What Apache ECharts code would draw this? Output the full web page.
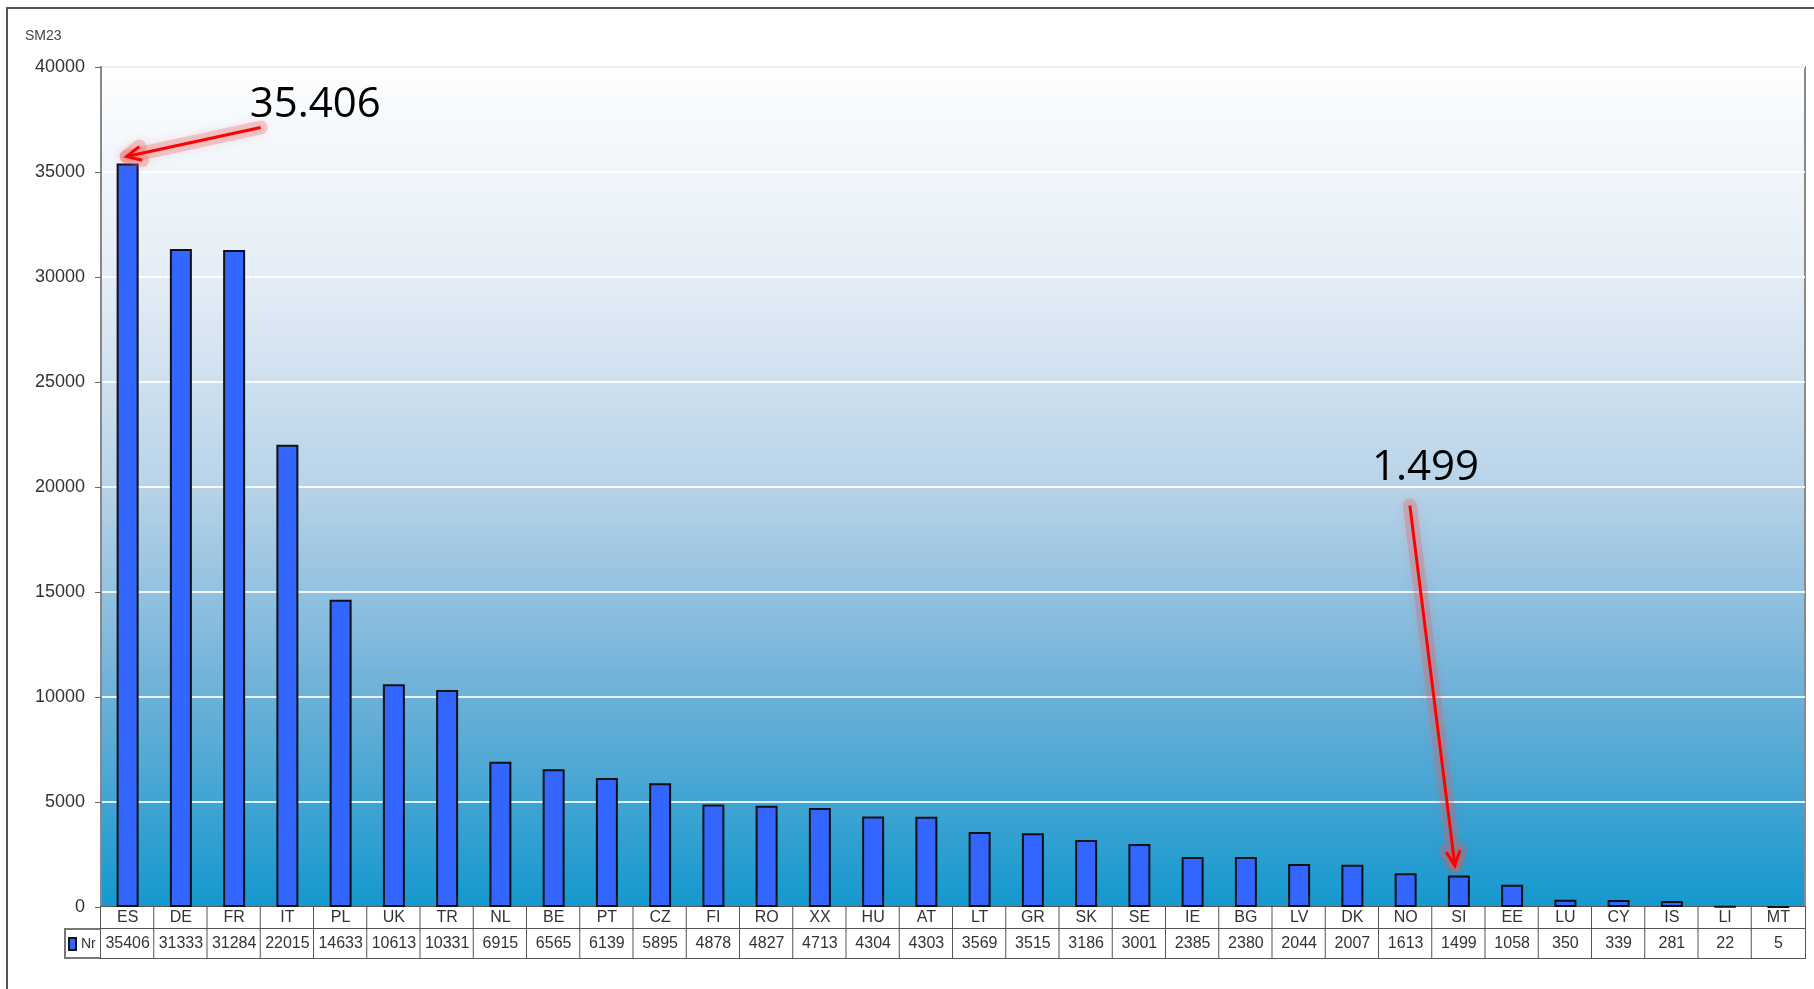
<!DOCTYPE html>
<html>
<head>
<meta charset="utf-8">
<script src="https://cdn.jsdelivr.net/npm/echarts@6/dist/echarts.min.js"></script>
<style>
    html, body { margin: 0; padding: 0; background: #fff; }
    #chart { width: 1814px; height: 989px; }
</style>
</head>
<body>
<div id="chart"></div>
<script>
    // data
    var countries = ['ES', 'DE', 'FR', 'IT', 'PL', 'UK', 'TR', 'NL', 'BE', 'PT', 'CZ', 'FI', 'RO', 'XX', 'HU', 'AT',
        'LT', 'GR', 'SK', 'SE', 'IE', 'BG', 'LV', 'DK', 'NO', 'SI', 'EE', 'LU', 'CY', 'IS', 'LI', 'MT'];
    var counts = [35406, 31333, 31284, 22015, 14633, 10613, 10331, 6915, 6565, 6139, 5895, 4878, 4827, 4713, 4304, 4303,
        3569, 3515, 3186, 3001, 2385, 2380, 2044, 2007, 1613, 1499, 1058, 350, 339, 281, 22, 5];
    var yMin = 0, yMax = 40000, yStep = 5000;
    var callouts = [
        {name: 'ES', text: '35.406'},
        {name: 'SI', text: '1.499'}
    ];

    var plain = '"Liberation Sans", Arial, sans-serif';
    var colW = 1704 / countries.length;

    var chart = echarts.init(document.getElementById('chart'));

    var option = {
        animation: false,
        title: {
            text: 'SM23', left: 20, top: 24,
            textStyle: {fontFamily: plain, fontSize: 14, fontWeight: 'normal', color: '#444'}
        },
        legend: {
            data: ['Nr'], left: 68, top: 937, padding: 0,
            icon: 'rect', itemWidth: 7, itemHeight: 12, itemGap: 2,
            textStyle: {fontFamily: plain, fontSize: 14, color: '#333'}
        },
        grid: {
            left: 101, right: 9, top: 67, bottom: 82,
            show: true,
            borderColor: '#8a8a8a', borderWidth: 2,
            backgroundColor: new echarts.graphic.LinearGradient(0, 0, 0, 1, [
                {offset: 0, color: '#fdfeff'},
                {offset: 0.25, color: '#e4edf6'},
                {offset: 0.5, color: '#b8d3e8'},
                {offset: 0.75, color: '#6cb0d8'},
                {offset: 1, color: '#1498ce'}
            ])
        },
        xAxis: {
            type: 'category',
            data: countries,
            axisLine: {lineStyle: {color: '#777', width: 1}},
            axisTick: {show: false},
            axisLabel: {
                interval: 0, margin: 0,
                formatter: function (value, index) {
                    return '{c|' + value + '}\n{v|' + counts[index] + '}';
                },
                rich: {
                    c: {
                        width: colW, height: 22, lineHeight: 22, align: 'center',
                        backgroundColor: '#fff', borderColor: '#555', borderWidth: 1,
                        fontFamily: plain, fontSize: 16, color: '#333'
                    },
                    v: {
                        width: colW, height: 29, lineHeight: 29, align: 'center',
                        backgroundColor: '#fff', borderColor: '#555', borderWidth: 1,
                        fontFamily: plain, fontSize: 16, color: '#333'
                    }
                }
            }
        },
        yAxis: {
            type: 'value',
            min: yMin, max: yMax, interval: yStep,
            axisLine: {show: true, lineStyle: {color: '#888', width: 2}},
            axisTick: {show: true, length: 6, lineStyle: {color: '#666'}},
            axisLabel: {
                margin: 16, fontFamily: plain, fontSize: 18, color: '#333',
                formatter: function (v) { return String(v); }
            },
            splitLine: {lineStyle: {color: 'rgba(255,255,255,0.85)', width: 2}}
        },
        series: [{
            name: 'Nr',
            type: 'bar',
            data: counts,
            barWidth: 22,
            itemStyle: {color: '#3366ff', borderColor: '#111', borderWidth: 2}
        }]
    };
    chart.setOption(option);

    // red call-out arrows, anchored on the bar tops
    var offsets = {
        ES: {head: [-1, -7], tail: [133, -36], text: [122, -58]},
        SI: {head: [-4, -10], tail: [-49, -370], text: [-87, -407]}
    };
    var graphics = [
        {type: 'rect', shape: {x: 7, y: 8, width: 1830, height: 1000}, style: {fill: null, stroke: '#555', lineWidth: 2}, silent: true},
        {type: 'rect', shape: {x: 65, y: 929, width: 36, height: 29}, style: {fill: null, stroke: '#555', lineWidth: 1}, silent: true},
        {type: 'rect', shape: {x: 65, y: 929, width: 1740, height: 29}, style: {fill: null, stroke: '#777', lineWidth: 2}, silent: true},
        {type: 'rect', shape: {x: 101, y: 907, width: 1704, height: 22}, style: {fill: null, stroke: '#777', lineWidth: 1.5}, silent: true}
    ];
    callouts.forEach(function (c) {
        var idx = countries.indexOf(c.name);
        var p = chart.convertToPixel({seriesIndex: 0}, [idx, counts[idx]]);
        var o = offsets[c.name];
        var hx = p[0] + o.head[0], hy = p[1] + o.head[1];
        var tx = p[0] + o.tail[0], ty = p[1] + o.tail[1];
        var ang = Math.atan2(ty - hy, tx - hx);
        var arm = 16, spread = 0.45;
        var a1 = [hx + arm * Math.cos(ang + spread), hy + arm * Math.sin(ang + spread)];
        var a2 = [hx + arm * Math.cos(ang - spread), hy + arm * Math.sin(ang - spread)];
        graphics.push({
            type: 'line', silent: true, z: 10,
            shape: {x1: tx, y1: ty, x2: hx, y2: hy},
            style: {stroke: 'rgba(235,90,90,0.28)', lineWidth: 14, lineCap: 'round', shadowBlur: 10, shadowColor: 'rgba(235,80,80,0.5)'}
        });
        graphics.push({
            type: 'polyline', silent: true, z: 10,
            shape: {points: [a1, [hx, hy], a2]},
            style: {stroke: 'rgba(235,90,90,0.28)', lineWidth: 14, lineCap: 'round', lineJoin: 'round', fill: null, shadowBlur: 10, shadowColor: 'rgba(235,80,80,0.5)'}
        });
        graphics.push({
            type: 'line', silent: true, z: 11,
            shape: {x1: tx, y1: ty, x2: hx, y2: hy},
            style: {stroke: '#ff0000', lineWidth: 3}
        });
        graphics.push({
            type: 'polyline', silent: true, z: 11,
            shape: {points: [a1, [hx, hy], a2]},
            style: {stroke: '#ff0000', lineWidth: 3, fill: null}
        });
        graphics.push({
            type: 'text', silent: true, z: 12,
            x: p[0] + o.text[0], y: p[1] + o.text[1],
            style: {text: c.text, fontFamily: '"Open Sans", "Noto Sans", sans-serif', fontSize: 42, fill: '#000', verticalAlign: 'middle'}
        });
    });
    chart.setOption({graphic: graphics});
</script>
</body>
</html>
